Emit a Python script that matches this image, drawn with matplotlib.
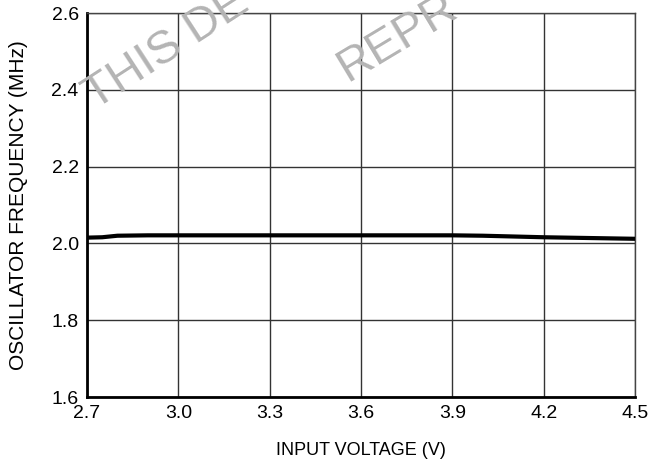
import numpy as np
import matplotlib
matplotlib.use("Agg")
import matplotlib.pyplot as plt

plt.rcParams["font.family"] = ["Liberation Sans", "DejaVu Sans"]

# oscillator frequency vs input voltage
vin = [2.70, 2.75, 2.80, 2.90, 3.00, 3.30, 3.60, 3.90, 4.00, 4.20, 4.50]
fosc = [2.015, 2.016, 2.020, 2.021, 2.021, 2.021, 2.021, 2.021, 2.020, 2.016, 2.012]

xticks = [2.7, 3.0, 3.3, 3.6, 3.9, 4.2, 4.5]
yticks = [1.6, 1.8, 2.0, 2.2, 2.4, 2.6]

fig = plt.figure(figsize=(6.52, 4.66), dpi=100)
ax = fig.add_axes([87/652, 1 - 397/466, (635-87)/652, (397-13)/466])

ax.plot(vin, fosc, color="black", lw=3, zorder=3)

ax.set_xlim(2.7, 4.5)
ax.set_ylim(1.6, 2.6)
ax.set_xticks(xticks)
ax.set_xticklabels([f"{v:.1f}" for v in xticks])
ax.set_yticks(yticks)
ax.set_yticklabels([f"{v:.1f}" for v in yticks])
ax.grid(True, color="#333333", lw=1.0)
ax.tick_params(length=0, labelsize=14, pad=6)
ax.tick_params(axis="x", pad=6)
for s in ["left", "bottom"]:
    ax.spines[s].set_linewidth(2)
for s in ["top", "right"]:
    ax.spines[s].set_linewidth(1)
    ax.spines[s].set_color("#444444")

ax.set_xlabel("INPUT VOLTAGE (V)", fontsize=13, labelpad=14)
ax.set_ylabel("OSCILLATOR FREQUENCY (MHz)", fontsize=15)
ax.yaxis.set_label_coords(-0.108, 0.5)

# watermark (cut by the top edge, as in the source)
fig.text(95/652, 1 - 110/466, "THIS DE", rotation=33, fontsize=34,
         color="#b4b4b4", ha="left", va="baseline", rotation_mode="anchor")
fig.text(347/652, 1 - 82/466, "REPR", rotation=31, fontsize=34,
         color="#b4b4b4", ha="left", va="baseline", rotation_mode="anchor")

fig.savefig("out.png", dpi=100)
